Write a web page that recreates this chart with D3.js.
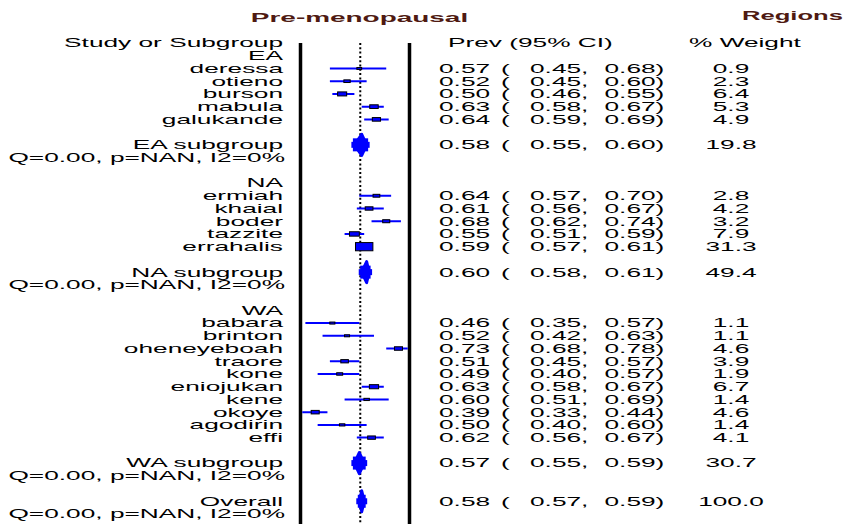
<!DOCTYPE html>
<html>
<head>
<meta charset="utf-8">
<script src="https://cdn.jsdelivr.net/npm/d3@7"></script>
<style>
  html, body { margin: 0; padding: 0; background: #fff; }
  svg { display: block; }
  text { font-family: "Liberation Sans", Arial, sans-serif; fill: #000; }
</style>
</head>
<body>
<svg id="chart" width="846" height="524"></svg>
<script>
// ---------------- data ----------------
const title = "Pre-menopausal";
const subtitle = "Regions";
const headerLabels = ["Study or Subgroup", "Prev (95% CI)", "% Weight"];

const groupNames = ["EA", "NA", "WA"];
const hetText = "Q=0.00, p=NAN, I2=0%";

const eaStudies = ["deressa", "otieno", "burson", "mabula", "galukande"];
const eaPrev    = [0.57, 0.52, 0.50, 0.63, 0.64];
const eaLower   = [0.45, 0.45, 0.46, 0.58, 0.59];
const eaUpper   = [0.68, 0.60, 0.55, 0.67, 0.69];
const eaWeight  = [0.9, 2.3, 6.4, 5.3, 4.9];

const naStudies = ["ermiah", "khaial", "boder", "tazzite", "errahalis"];
const naPrev    = [0.64, 0.61, 0.68, 0.55, 0.59];
const naLower   = [0.57, 0.56, 0.62, 0.51, 0.57];
const naUpper   = [0.70, 0.67, 0.74, 0.59, 0.61];
const naWeight  = [2.8, 4.2, 3.2, 7.9, 31.3];

const waStudies = ["babara", "brinton", "oheneyeboah", "traore", "kone", "eniojukan", "kene", "okoye", "agodirin", "effi"];
const waPrev    = [0.46, 0.52, 0.73, 0.51, 0.49, 0.63, 0.60, 0.39, 0.50, 0.62];
const waLower   = [0.35, 0.42, 0.68, 0.45, 0.40, 0.58, 0.51, 0.33, 0.40, 0.56];
const waUpper   = [0.57, 0.63, 0.78, 0.57, 0.57, 0.67, 0.69, 0.44, 0.60, 0.67];
const waWeight  = [1.1, 1.1, 4.6, 3.9, 1.9, 6.7, 1.4, 4.6, 1.4, 4.1];

const subLabels  = ["EA subgroup", "NA subgroup", "WA subgroup", "Overall"];
const subPrev    = [0.58, 0.60, 0.57, 0.58];
const subLower   = [0.55, 0.58, 0.55, 0.57];
const subUpper   = [0.60, 0.61, 0.59, 0.59];
const subWeight  = [19.8, 49.4, 30.7, 100.0];

const refValue = 0.574;   // dotted reference line (pooled estimate)
const xDomain = [0.33, 0.775];

// ---------------- build rows ----------------
const studyGroups = [
  {name: groupNames[0], s: eaStudies, p: eaPrev, l: eaLower, u: eaUpper, w: eaWeight},
  {name: groupNames[1], s: naStudies, p: naPrev, l: naLower, u: naUpper, w: naWeight},
  {name: groupNames[2], s: waStudies, p: waPrev, l: waLower, u: waUpper, w: waWeight}
];
const rows = [];
let r = 1;
studyGroups.forEach((g, gi) => {
  rows.push({type: "group", label: g.name, row: r}); r++;
  g.s.forEach((name, i) => {
    rows.push({type: "study", label: name, est: g.p[i], lo: g.l[i], hi: g.u[i], w: g.w[i], row: r}); r++;
  });
  r++;
  rows.push({type: "sub", label: subLabels[gi], est: subPrev[gi], lo: subLower[gi], hi: subUpper[gi], w: subWeight[gi], row: r}); r++;
  rows.push({type: "het", label: hetText, row: r}); r++;
  r++;
});
rows.push({type: "sub", label: subLabels[3], est: subPrev[3], lo: subLower[3], hi: subUpper[3], w: subWeight[3], row: r}); r++;
rows.push({type: "het", label: hetText, row: r});
const lastRow = r;

// ---------------- scales ----------------
const svg = d3.select("#chart");
const x = d3.scaleLinear().domain(xDomain).range([300.5, 409.5]);
const y = d3.scaleLinear().domain([0, lastRow]).range([43, 514]);
const boxH = d3.scaleSqrt().domain([0, 31.3]).range([0.6, 8.2]);

const FS = 12.2;
const SX = 2.02 * 13 / FS;  // horizontal glyph stretch
const f2 = d3.format(".2f");
const f1 = d3.format(".1f");

function txt(str, xx, yy, anchor, opts = {}) {
  const t = svg.append("text")
    .attr("transform", `translate(${xx},${yy}) scale(${opts.sx || SX},1)`)
    .attr("dy", "0.36em")
    .attr("text-anchor", anchor)
    .style("font-size", (opts.fs || FS) + "px")
    .text(str);
  if (opts.bold) t.style("font-weight", "bold");
  if (opts.fill) t.style("fill", opts.fill);
  return t;
}

// ---------------- titles ----------------
txt(title, 359.5, 17, "middle", {bold: true, fs: 13, sx: 2.15, fill: "#4f1a12"});
txt(subtitle, 843, 15, "end", {bold: true, fs: 13, sx: 1.97, fill: "#4f1a12"});

// headers
txt(headerLabels[0], 283, y(0), "end");
txt(headerLabels[1], 448, y(0), "start");
txt(headerLabels[2], 689, y(0), "start");

// ---------------- frame lines ----------------
const yTop = y(0), yBottom = 524;
svg.append("line").attr("x1", x.range()[0]).attr("x2", x.range()[0])
  .attr("y1", yTop).attr("y2", yBottom).attr("stroke", "#000").attr("stroke-width", 3.5);
svg.append("line").attr("x1", x.range()[1]).attr("x2", x.range()[1])
  .attr("y1", yTop).attr("y2", yBottom).attr("stroke", "#000").attr("stroke-width", 3.5);
svg.append("line").attr("x1", x(refValue)).attr("x2", x(refValue))
  .attr("y1", yTop).attr("y2", yBottom).attr("stroke", "#000")
  .attr("stroke-width", 2).attr("stroke-dasharray", "2,2.3");

svg.append("clipPath").attr("id", "plotclip").append("rect")
  .attr("x", x.range()[0] + 1.75).attr("y", 0)
  .attr("width", x.range()[1] - x.range()[0] - 3.5).attr("height", 524);
const plot = svg.append("g").attr("clip-path", "url(#plotclip)");

// ---------------- rows ----------------
rows.forEach(d => {
  const yy = y(d.row);
  if (d.type === "group") {
    txt(d.label, 283, yy, "end");
  } else if (d.type === "het") {
    txt(d.label, 285, yy, "end");
  } else {
    txt(d.label, 283, yy, "end");
    // numeric columns
    txt(f2(d.est), 439, yy, "start");
    txt("(", 501, yy, "start");
    txt(f2(d.lo) + ",", 530, yy, "start");
    txt(f2(d.hi) + ")", 604.5, yy, "start");
    txt(f1(d.w), 731, yy, "middle");

    if (d.type === "study") {
      plot.append("line")
        .attr("x1", x(d.lo)).attr("x2", x(d.hi))
        .attr("y1", yy).attr("y2", yy)
        .attr("stroke", "#0000ff").attr("stroke-width", 2);
      const h = boxH(d.w), w = 2 * h + 1;
      plot.append("rect")
        .attr("x", x(d.est) - w / 2).attr("y", yy - h / 2)
        .attr("width", w).attr("height", h)
        .attr("fill", "#0000ff").attr("stroke", "#000").attr("stroke-width", 1);
    } else {
      const hh = 10.5;
      const xl = x(d.lo), xh = x(d.hi), xe = x(d.est);
      plot.append("polygon")
        .attr("points", [[xl, yy], [xe, yy - hh], [xh, yy], [xe, yy + hh]].map(p => p.join(",")).join(" "))
        .attr("fill", "#0000ff").attr("stroke", "#0000ff").attr("stroke-width", 3)
        .attr("stroke-linejoin", "round");
      plot.append("rect")
        .attr("x", xl - 1.5).attr("y", yy - hh * 0.62)
        .attr("width", xh - xl + 3).attr("height", hh * 1.24)
        .attr("fill", "#0000ff");
      plot.append("rect")
        .attr("x", xl - 3).attr("y", yy - 3)
        .attr("width", xh - xl + 6).attr("height", 6)
        .attr("fill", "#0000ff");
    }
  }
});
</script>
</body>
</html>
